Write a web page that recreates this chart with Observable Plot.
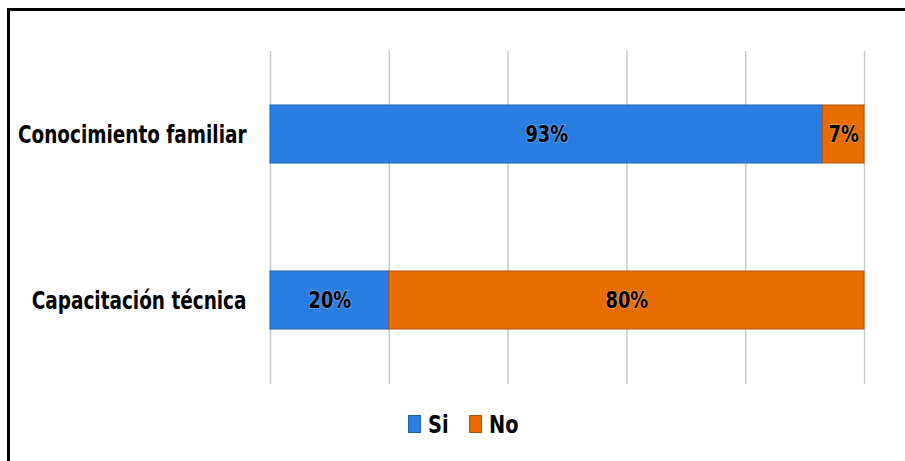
<!DOCTYPE html>
<html>
<head>
<meta charset="utf-8">
<script src="https://cdn.jsdelivr.net/npm/d3@7"></script>
<script src="https://cdn.jsdelivr.net/npm/@observablehq/plot@0.6"></script>
<style>
  html, body { margin: 0; padding: 0; background: #fff; }
  #wrap { position: relative; width: 905px; height: 461px; overflow: hidden; }
  #frame { position: absolute; left: 7px; top: 8px; right: -10px; bottom: -10px;
           border-top: 3px solid #000; border-left: 3px solid #000; }
  #chart { position: absolute; left: 0; top: 0; }
  #legend { position: absolute; top: 407px; left: 0; width: 905px; height: 34px;
            display: flex; justify-content: center; align-items: center;
            font-family: "DejaVu Sans Condensed", "DejaVu Sans", sans-serif;
            font-weight: bold; font-size: 25px; color: #000; padding-left: 22px; box-sizing: border-box; }
  .item { display: flex; align-items: center; }
  .item + .item { margin-left: 20px; }
  .sw { width: 13px; height: 18px; margin-right: 7px; box-sizing: border-box; }
  .lab { display: inline-block; transform: scaleX(0.86); transform-origin: left center; }
</style>
</head>
<body>
<div id="wrap">
  <div id="frame"></div>
  <div id="chart"></div>
  <div id="legend"></div>
</div>
<script>
const categories = ["Conocimiento familiar", "Capacitación técnica"];
const series = ["Si", "No"];
const siValues = [93, 20];
const noValues = [7, 80];
const xTicks = [0, 20, 40, 60, 80, 100];
const colors = ["#2A7DE1", "#E96C00"];
const strokes = ["#1F5FAF", "#B4520E"];

const rows = [];
categories.forEach((c, i) => {
  rows.push({cat: c, serie: "Si", value: siValues[i]});
  rows.push({cat: c, serie: "No", value: noValues[i]});
});

const font = "'DejaVu Sans Condensed', 'DejaVu Sans', sans-serif";

const chart = Plot.plot({
  width: 905,
  height: 400,
  marginTop: 51,
  marginBottom: 16,
  marginLeft: 270,
  marginRight: 41,
  style: {fontFamily: font, background: "transparent", overflow: "visible"},
  x: {domain: [0, 100], ticks: xTicks, axis: null},
  y: {domain: categories, paddingInner: 0.65, paddingOuter: 0.325, label: null},
  color: {domain: series, range: colors},
  marks: [
    Plot.gridX(xTicks, {stroke: "#c8c8c8", strokeOpacity: 1, strokeWidth: 1.5}),
    Plot.barX(rows, Plot.stackX({x: "value", y: "cat", z: "serie", order: null,
      fill: "serie", stroke: d => strokes[series.indexOf(d.serie)], strokeWidth: 1})),
    Plot.text(rows, Plot.stackX({x: "value", y: "cat", z: "serie", order: null,
      text: d => d.value + "%", fill: "#000", stroke: "rgba(255,255,255,0.25)", strokeWidth: 2,
      fontSize: 23, fontWeight: "bold", fontFamily: font})),
    Plot.axisY({tickSize: 0, tickPadding: 24, fontSize: 25, fontWeight: "bold",
      fontFamily: font, fill: "#000", label: null})
  ]
});
document.getElementById("chart").appendChild(chart);

// condense glyphs horizontally to mimic the narrow reference font
function squeeze(sel, k) {
  chart.querySelectorAll(sel).forEach(t => {
    const L = t.getComputedTextLength();
    t.setAttribute("textLength", (L * k).toFixed(2));
    t.setAttribute("lengthAdjust", "spacingAndGlyphs");
  });
}
squeeze('g[aria-label="y-axis tick label"] text', 0.82);
squeeze('g[aria-label="text"] text', 0.86);

const legend = document.getElementById("legend");
series.forEach((s, i) => {
  const it = document.createElement("div");
  it.className = "item";
  const sw = document.createElement("div");
  sw.className = "sw";
  sw.style.background = colors[i];
  sw.style.border = "1px solid " + strokes[i];
  const t = document.createElement("span");
  t.className = "lab";
  t.textContent = s;
  it.appendChild(sw); it.appendChild(t);
  legend.appendChild(it);
  t.style.marginRight = (-t.offsetWidth * 0.14) + "px";
});
</script>
</body>
</html>
